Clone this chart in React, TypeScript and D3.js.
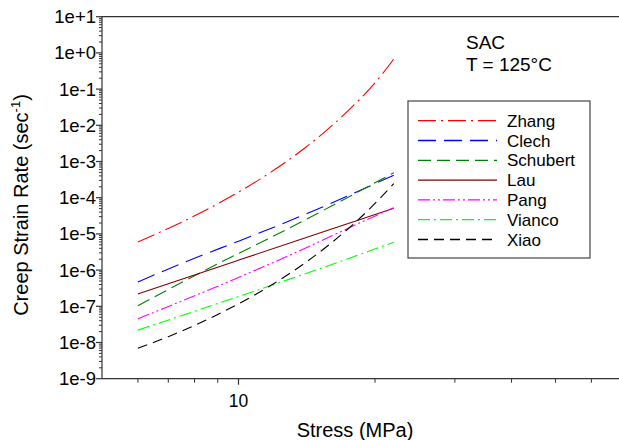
import React from "react";
import * as d3 from "d3";

const W = 619;
const H = 440;

// Stress (MPa) sample points and creep strain rates (1/s)
const zhangStress = [6, 7, 8, 9, 10, 12, 14, 16, 18, 20, 22];
const zhangRate = [6.0e-6, 1.42e-5, 3.15e-5, 6.8e-5, 1.42e-4, 5.9e-4, 2.36e-3, 9.3e-3, 3.7e-2, 0.149, 0.68];

const clechStress = [6, 7.9, 10, 11.7, 16, 22];
const clechRate = [4.7e-7, 2.0e-6, 6.3e-6, 1.37e-5, 7.0e-5, 4.2e-4];

const schubertStress = [6, 9.5, 11.7, 16, 22];
const schubertRate = [1.04e-7, 2.1e-6, 7.6e-6, 5.8e-5, 4.9e-4];

const lauStress = [6, 10, 14, 18, 22];
const lauRate = [2.2e-7, 1.88e-6, 7.7e-6, 2.2e-5, 5.1e-5];

const pangStress = [6, 12.5, 20.2, 22];
const pangRate = [4.5e-8, 2.1e-6, 3.3e-5, 5.3e-5];

const viancoStress = [6, 17.5, 22];
const viancoRate = [2.2e-8, 2.1e-6, 5.9e-6];

const xiaoStress = [6, 7, 8, 9, 10, 12, 14, 16, 18, 20, 22];
const xiaoRate = [6.9e-9, 1.45e-8, 2.97e-8, 5.96e-8, 1.17e-7, 4.35e-7, 1.56e-6, 5.55e-6, 1.96e-5, 6.93e-5, 2.44e-4];

const seriesNames = ["Zhang", "Clech", "Schubert", "Lau", "Pang", "Vianco", "Xiao"];
const seriesColors = ["#ff0000", "#0000ff", "#008000", "#800000", "#ff00ff", "#00ff00", "#000000"];
const seriesDashes = ["18,5,2,5", "18,8", "13,6", "", "12,3,2,3,2,3", "12,4,2,4", "10,6"];
const seriesStress = [zhangStress, clechStress, schubertStress, lauStress, pangStress, viancoStress, xiaoStress];
const seriesRate = [zhangRate, clechRate, schubertRate, lauRate, pangRate, viancoRate, xiaoRate];

const yTickValues = [1e1, 1e0, 1e-1, 1e-2, 1e-3, 1e-4, 1e-5, 1e-6, 1e-7, 1e-8, 1e-9];
const yTickLabels = ["1e+1", "1e+0", "1e-1", "1e-2", "1e-3", "1e-4", "1e-5", "1e-6", "1e-7", "1e-8", "1e-9"];
const xMajorTicks = [10];
const xMinorTicks = [6, 7, 8, 9, 20, 30, 40, 50, 60, 70, 80, 90];

const FONT = "'Liberation Sans', Arial, Helvetica, sans-serif";

export default function App() {
  const left = 102;
  const top = 16.7;
  const bottom = 378.7;
  const right = 692;

  const x = d3.scaleLog().domain([5, 100]).range([left, right]);
  const y = d3.scaleLog().domain([1e-9, 1e1]).range([bottom, top]);

  const line = d3
    .line<[number, number]>()
    .x((d) => x(d[0]))
    .y((d) => y(d[1]))
    .curve(d3.curveMonotoneX);

  const yMinor: number[] = [];
  for (let e = -9; e < 1; e++) {
    for (let m = 2; m <= 9; m++) yMinor.push(m * Math.pow(10, e));
  }

  const legendX = 408;
  const legendY = 101;
  const legendRows = seriesNames.map((_, i) => 120.7 + i * 19.8);

  return (
    <svg
      width={W}
      height={H}
      style={{ position: "absolute", left: 0, top: 0, background: "#fff" }}
      fontFamily={FONT}
    >
      <defs>
        <clipPath id="plotclip">
          <rect x={left} y={top} width={right - left} height={bottom - top} />
        </clipPath>
      </defs>
      <rect x={0} y={0} width={W} height={H} fill="#fff" />

      {/* curves */}
      <g clipPath="url(#plotclip)">
        {seriesNames.map((name, i) => (
          <path
            key={name}
            d={line(seriesStress[i].map((s, j) => [s, seriesRate[i][j]] as [number, number])) || ""}
            fill="none"
            stroke={seriesColors[i]}
            strokeWidth={1.1}
            strokeDasharray={seriesDashes[i] || undefined}
          />
        ))}
      </g>

      {/* frame lines */}
      <line x1={left} x2={W} y1={top} y2={top} stroke="#333" strokeWidth={1.2} />
      <line x1={left} x2={W} y1={bottom} y2={bottom} stroke="#333" strokeWidth={1.2} />
      <line x1={left} x2={left} y1={top} y2={bottom} stroke="#333" strokeWidth={1.2} />

      {/* y ticks */}
      {yMinor.map((v, i) => (
        <line key={"ym" + i} x1={left - 3} x2={left} y1={y(v)} y2={y(v)} stroke="#333" strokeWidth={1} />
      ))}
      {yTickValues.map((v, i) => (
        <g key={"yt" + i}>
          <line x1={left - 6} x2={left} y1={y(v)} y2={y(v)} stroke="#333" strokeWidth={1.2} />
          <text x={left - 6} y={y(v) + 6.5} textAnchor="end" fontSize={18.5} fill="#000">
            {yTickLabels[i]}
          </text>
        </g>
      ))}

      {/* x ticks */}
      {xMinorTicks.map((v, i) => (
        <line key={"xm" + i} x1={x(v)} x2={x(v)} y1={bottom} y2={bottom + 4} stroke="#333" strokeWidth={1} />
      ))}
      {xMajorTicks.map((v, i) => (
        <g key={"xt" + i}>
          <line x1={x(v)} x2={x(v)} y1={bottom} y2={bottom + 6} stroke="#333" strokeWidth={1.2} />
          <text x={x(v)} y={bottom + 28} textAnchor="middle" fontSize={17.5} fill="#000">
            {String(v)}
          </text>
        </g>
      ))}

      {/* axis titles */}
      <text x={355} y={437} textAnchor="middle" fontSize={20} fill="#000">
        Stress (MPa)
      </text>
      <text transform="translate(28,205) rotate(-90)" textAnchor="middle" fontSize={20} fill="#000">
        Creep Strain Rate (sec
        <tspan fontSize={13} dy={-8}>-1</tspan>
        <tspan dy={8}>)</tspan>
      </text>

      {/* annotation */}
      <text x={466} y={49} fontSize={19} fill="#000">SAC</text>
      <text x={466} y={70.5} fontSize={19} fill="#000">T = 125°C</text>

      {/* legend */}
      <rect x={legendX} y={legendY} width={182} height={157} fill="#fff" stroke="#444" strokeWidth={1.2} />
      {seriesNames.map((name, i) => (
        <g key={"lg" + name}>
          <line
            x1={418}
            x2={497}
            y1={legendRows[i]}
            y2={legendRows[i]}
            stroke={seriesColors[i]}
            strokeWidth={1.3}
            strokeDasharray={seriesDashes[i] || undefined}
          />
          <text x={507} y={legendRows[i] + 6} fontSize={17} fill="#000">
            {name}
          </text>
        </g>
      ))}
    </svg>
  );
}
